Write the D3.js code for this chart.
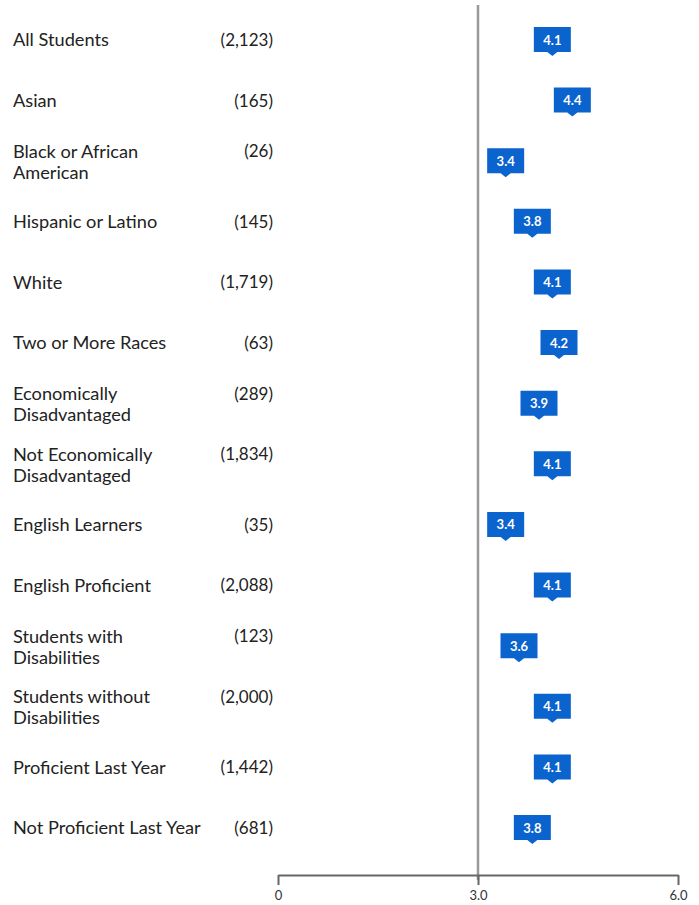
<!DOCTYPE html>
<html>
<head>
  <script src="https://d3js.org/d3.v7.min.js"></script>
  <style>
    body { margin: 0; background: #fff; }
    text { font-family: Lato, "Open Sans", sans-serif; }
  </style>
</head>
<body>
  <svg id="chart"></svg>
  <script>
    const groups = [
      ["All Students"],
      ["Asian"],
      ["Black or African", "American"],
      ["Hispanic or Latino"],
      ["White"],
      ["Two or More Races"],
      ["Economically", "Disadvantaged"],
      ["Not Economically", "Disadvantaged"],
      ["English Learners"],
      ["English Proficient"],
      ["Students with", "Disabilities"],
      ["Students without", "Disabilities"],
      ["Proficient Last Year"],
      ["Not Proficient Last Year"]
    ]
    const counts = ["(2,123)", "(165)", "(26)", "(145)", "(1,719)", "(63)", "(289)",
      "(1,834)", "(35)", "(2,088)", "(123)", "(2,000)", "(1,442)", "(681)"]
    const scores = [4.1, 4.4, 3.4, 3.8, 4.1, 4.2, 3.9, 4.1, 3.4, 4.1, 3.6, 4.1, 4.1, 3.8]
    const tickValues = [0, 3, 6]
    const tickLabels = ["0", "3.0", "6.0"]
    const refValue = 3

    const svgwidth = 699, svgheight = 905
    const svg = d3.select("#chart").attr("width", svgwidth).attr("height", svgheight)

    const x = d3.scaleLinear().domain([0, 6]).range([278, 678])
    const y = d3.scalePoint().domain(d3.range(groups.length)).range([40, 828])
    const axisY = 875

    // reference line at 3.0
    svg.append("line")
      .attr("x1", x(refValue)).attr("x2", x(refValue))
      .attr("y1", 5).attr("y2", axisY + 5)
      .attr("stroke", "#999").attr("stroke-width", 2.5)

    // row labels
    groups.forEach((lines, i) => {
      const top = lines.length > 1 ? y(i) - 10 : y(i)
      const t = svg.append("text")
        .attr("x", 13).attr("y", top)
        .attr("dy", "0.35em")
        .attr("font-size", 18.2).attr("fill", "#222")
      lines.forEach((l, j) => {
        t.append("tspan").attr("x", 13).attr("y", top + j * 21).attr("dy", "0.35em").text(l)
      })
      svg.append("text")
        .attr("x", 273).attr("y", top)
        .attr("dy", "0.35em")
        .attr("text-anchor", "end")
        .attr("font-size", 17).attr("fill", "#222")
        .text(counts[i])
    })

    // axis
    const axis = svg.append("g")
      .attr("transform", `translate(0,${axisY})`)
      .call(d3.axisBottom(x).tickValues(tickValues).tickFormat((d, i) => tickLabels[i])
        .tickSizeOuter(0).tickSizeInner(10))
    axis.select(".domain").attr("stroke", "#666").attr("stroke-width", 2)
    axis.selectAll(".tick line").attr("stroke", "#666").attr("stroke-width", 2)
    axis.selectAll(".tick text")
      .attr("font-family", "Lato, sans-serif").attr("font-size", 13).attr("fill", "#333")
      .attr("y", 16)

    // markers
    const bw = 37, bh = 25
    const m = svg.selectAll(".marker")
      .data(scores)
      .enter()
      .append("g")
      .attr("class", "marker")
      .attr("transform", (d, i) => `translate(${x(d) + 1},${y(i)})`)
    m.append("path")
      .attr("d", `M${-bw / 2},-13 H${bw / 2} V12 H5 L0,16 L-5,12 H${-bw / 2} Z`)
      .attr("fill", "#0b63ce")
    m.append("text")
      .attr("text-anchor", "middle")
      .attr("dy", "0.35em")
      .attr("font-size", 13).attr("font-weight", "bold")
      .attr("fill", "#fff")
      .text(d => d.toFixed(1))
  </script>
</body>
</html>
